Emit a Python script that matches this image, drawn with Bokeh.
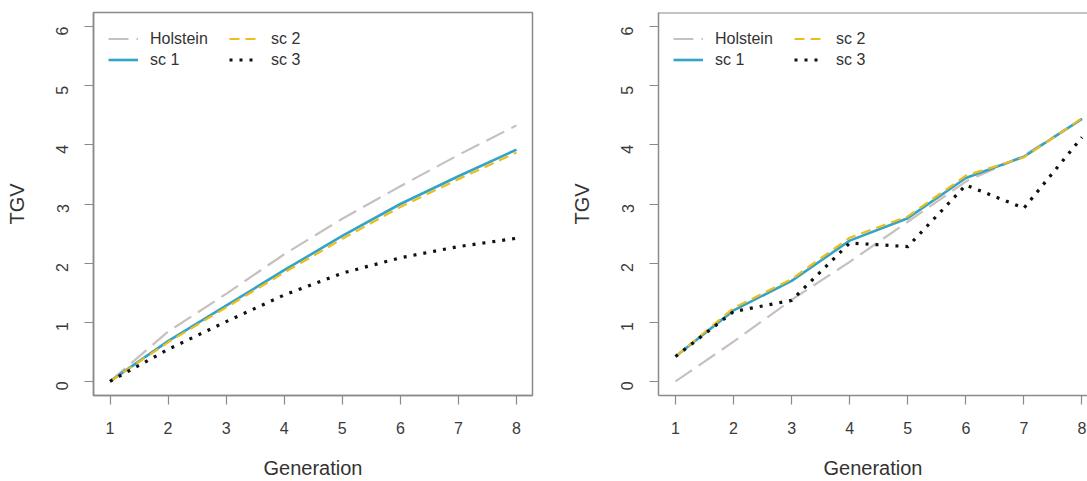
from bokeh.plotting import figure
from bokeh.layouts import row
from bokeh.models import Legend, LegendItem, FixedTicker, Span
from bokeh.embed import file_html
from bokeh.resources import INLINE
import math

# ---------------- data ----------------
generation = [1, 2, 3, 4, 5, 6, 7, 8]
series_names = ["Holstein", "sc 1", "sc 2", "sc 3"]

# left panel
holstein_a = [0.0, 0.84, 1.48, 2.15, 2.75, 3.30, 3.83, 4.33]
sc1_a = [0.0, 0.68, 1.28, 1.88, 2.46, 3.00, 3.47, 3.92]
sc2_a = [0.0, 0.66, 1.25, 1.84, 2.41, 2.95, 3.42, 3.87]
sc3_a = [0.0, 0.54, 1.01, 1.46, 1.83, 2.09, 2.28, 2.42]

# right panel
holstein_b = [0.0, 0.67, 1.38, 2.02, 2.70, 3.38, 3.82, 4.44]
sc1_b = [0.42, 1.20, 1.70, 2.38, 2.76, 3.44, 3.80, 4.44]
sc2_b = [0.42, 1.24, 1.73, 2.43, 2.79, 3.48, 3.79, 4.45]
sc3_b = [0.42, 1.18, 1.37, 2.34, 2.28, 3.32, 2.93, 4.13]

x_ticks = [1, 2, 3, 4, 5, 6, 7, 8]
y_ticks = [0, 1, 2, 3, 4, 5, 6]
x_label = "Generation"
y_label = "TGV"

# ---------------- styles ----------------
FONT = "Liberation Sans"
BOX = "#8a8a8a"
TXT = "#333333"
styles = [
    dict(color="#c8c0c0", line_width=2.2, line_dash="20 8"),
    dict(color="#33a3c6", line_width=2.6, line_dash="solid"),
    dict(color="#ebbd1e", line_width=2.2, line_dash="10 6"),
    dict(color="#111111", line_width=3.2, line_dash="3 7"),
]

FRAME_H = 386
PX_PER_X = 58.07


def make_panel(series, width, border_left, border_right, x_start, x_end, full_box):
    p = figure(width=width, height=481, output_backend="svg", toolbar_location=None,
               x_range=(x_start, x_end), y_range=(-0.24, 6.24),
               min_border_left=border_left, min_border_right=border_right,
               min_border_top=12, min_border_bottom=83)
    p.xgrid.visible = False
    p.ygrid.visible = False
    p.background_fill_color = "white"
    p.border_fill_color = "white"
    if full_box:
        p.outline_line_color = BOX
        p.outline_line_width = 1.5
    else:
        p.outline_line_color = None
        top = Span(location=6.24, dimension="width", line_color=BOX, line_width=2)
        p.add_layout(top)

    renderers = []
    for ys, st in zip(series, styles):
        r = p.line(generation, ys, line_color=st["color"], line_width=st["line_width"],
                   line_dash=st["line_dash"], line_cap="butt", line_join="round")
        renderers.append(r)

    for ax, ticks in ((p.xaxis[0], x_ticks), (p.yaxis[0], y_ticks)):
        ax.ticker = FixedTicker(ticks=ticks)
        ax.minor_tick_line_color = None
        ax.major_tick_in = 0
        ax.major_tick_out = 9
        ax.major_tick_line_color = BOX
        ax.major_tick_line_width = 1.2
        ax.axis_line_color = BOX
        ax.axis_line_width = 1.5
        ax.major_label_text_font = FONT
        ax.major_label_text_font_size = "16px"
        ax.major_label_text_color = "#3a3a3a"
        ax.axis_label_text_font = FONT
        ax.axis_label_text_font_size = "20px"
        ax.axis_label_text_font_style = "normal"
        ax.axis_label_text_color = TXT

    p.xaxis[0].axis_label = x_label
    p.xaxis[0].major_label_standoff = 17
    p.xaxis[0].axis_label_standoff = 20
    p.yaxis[0].axis_label = y_label
    p.yaxis[0].major_label_orientation = math.pi / 2
    p.yaxis[0].major_label_standoff = 22
    p.yaxis[0].axis_label_standoff = 20

    def legend(items, xoff):
        lg = Legend(items=items, location=(xoff, FRAME_H - 19 - 42),
                    orientation="vertical", padding=0, margin=0, spacing=0,
                    glyph_width=30, glyph_height=21, label_height=21,
                    label_standoff=12, label_text_font=FONT,
                    label_text_font_size="16px", label_text_color=TXT,
                    border_line_color=None, background_fill_alpha=0)
        p.add_layout(lg, "center")

    legend([LegendItem(label=series_names[0], renderers=[renderers[0]]),
            LegendItem(label=series_names[1], renderers=[renderers[1]])], 15)
    legend([LegendItem(label=series_names[2], renderers=[renderers[2]]),
            LegendItem(label=series_names[3], renderers=[renderers[3]])], 136)
    return p


# left: frame page x 93..532 ; right: frame page x 658..1087
left_frame_w = 439
xs_left = 1 - 16.5 / PX_PER_X
p1 = make_panel([holstein_a, sc1_a, sc2_a, sc3_a], 548, 93, 16,
                xs_left, xs_left + left_frame_w / PX_PER_X, True)

right_frame_w = 429
xs_right = 1 - 17 / PX_PER_X
p2 = make_panel([holstein_b, sc1_b, sc2_b, sc3_b], 539, 110, 0,
                xs_right, xs_right + right_frame_w / PX_PER_X, False)

layout = row(p1, p2)
layout.spacing = 0
open("out.html", "w").write(file_html(layout, INLINE))
